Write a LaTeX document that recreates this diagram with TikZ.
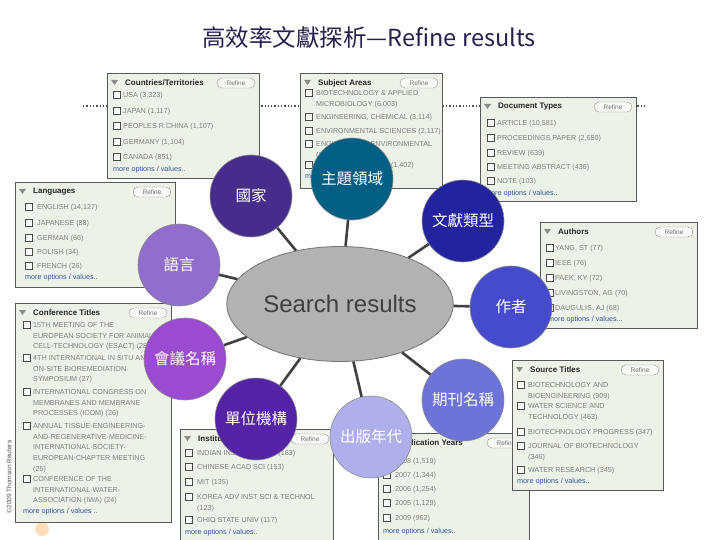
\documentclass[tikz,border=0pt]{standalone}
\usepackage{fontspec}
\setmainfont{Liberation Sans}
\newfontfamily\cjk{Noto Sans CJK TC}
\usetikzlibrary{shapes.geometric}

\definecolor{titleink}{RGB}{40,32,80}
\definecolor{panelbg}{RGB}{236,242,232}
\definecolor{moreblue}{RGB}{51,85,153}
\definecolor{linkgray}{RGB}{64,64,64}
\definecolor{cCountry}{RGB}{70,45,140}
\definecolor{cSubject}{RGB}{0,95,130}
\definecolor{cDoctype}{RGB}{35,35,160}
\definecolor{cLang}{RGB}{145,110,205}
\definecolor{cAuthor}{RGB}{70,75,205}
\definecolor{cConf}{RGB}{155,75,210}
\definecolor{cInst}{RGB}{85,35,165}
\definecolor{cYear}{RGB}{175,175,235}
\definecolor{cSource}{RGB}{110,115,215}

\tikzset{
  panel/.style={draw=black!65, fill=panelbg, line width=0.8pt},
  phead/.style={anchor=west, inner sep=0, font=\bfseries\fontsize{8}{8}\selectfont, text=black!85},
  refine/.style={draw=black!40, fill=white!60!panelbg, rounded corners=5pt, minimum width=38, minimum height=10, inner sep=0, font=\fontsize{6.5}{6.5}\selectfont, text=black!55},
  chk/.style={draw=black!70, fill=white, line width=0.6pt},
  ptext/.style={anchor=north west, inner sep=0, align=left, font=\fontsize{7.2}{10.6}\selectfont, text=black!50},
  pmore/.style={anchor=west, inner sep=0, font=\fontsize{7.2}{7.2}\selectfont, text=moreblue},
  topic/.style={circle, draw=black!45, line width=0.6pt, minimum size=82, inner sep=0, text=white, font=\cjk\fontsize{15.5}{15.5}\selectfont},
  link/.style={draw=linkgray, line width=2.6pt},
}

% one filter box: name, left, top, width, height, title
\newcommand{\panelbox}[6]{%
  \draw[panel] (#2,#3) rectangle ++(#4,#5);
  \fill[black!45] (#2+4,#3+7) -- ++(7,0) -- ++(-3.5,5) -- cycle;
  \node[phead] (#1-head) at (#2+18,#3+10) {#6};
  \node[refine] (#1-ref) at (#2+#4-23,#3+10) {Refine};
}
% one line with a check box: box x, text x, y, text
\newcommand{\panelitem}[4]{%
  \draw[chk] (#1,#3-3.5) rectangle ++(7,7);
  \node[ptext] at (#2,#3-2.6) {#4};
}

\begin{document}
\begin{tikzpicture}[x=1pt, y=-1pt]
    \fill[white] (0,0) rectangle (720,540);
    \useasboundingbox (0,0) rectangle (720,540);

    % Titel
    \node[font=\cjk\fontsize{23.5}{23.5}\selectfont, text=titleink] (title) at (369,38) {高效率文獻探析—Refine results};
    \node[rotate=90, font=\fontsize{6.5}{6.5}\selectfont, text=black!70] (copyr) at (9,477) {\textcopyright 2009 Thomson Reuters};
    \fill[orange!45, opacity=0.6] (42,529) circle (7);

    % gepunktete Linie hinter den Kaesten
    \draw[dotted, line width=1.3pt, black!70] (83,106) -- (645,106);

    % Countries/Territories
    \panelbox{cty}{107}{73}{152}{105}{Countries/Territories}
    \panelitem{113}{123}{95}{USA (3,323)}
    \panelitem{113}{123}{111}{JAPAN (1,117)}
    \panelitem{113}{123}{126}{PEOPLES R CHINA (1,107)}
    \panelitem{113}{123}{142}{GERMANY (1,104)}
    \panelitem{113}{123}{157}{CANADA (851)}
    \node[pmore] (cty-more) at (113,170) {more options / values..};

    % Subject Areas
    \panelbox{sub}{300}{73}{142}{115}{Subject Areas}
    \panelitem{305}{316}{93}{BIOTECHNOLOGY \& APPLIED\\MICROBIOLOGY (6,003)}
    \panelitem{305}{316}{117}{ENGINEERING, CHEMICAL (3,114)}
    \panelitem{305}{316}{131}{ENVIRONMENTAL SCIENCES (2,117)}
    \panelitem{305}{316}{144}{ENGINEERING, ENVIRONMENTAL\\(1,503)}
    \panelitem{305}{316}{165}{WATER RESOURCES (1,402)}
    \node[pmore] (sub-more) at (305,177) {more options / values..};

    % Document Types
    \panelbox{doc}{480}{97}{156}{104}{Document Types}
    \panelitem{487}{497}{123}{ARTICLE (10,581)}
    \panelitem{487}{497}{138}{PROCEEDINGS PAPER (2,680)}
    \panelitem{487}{497}{153}{REVIEW (639)}
    \panelitem{487}{497}{167}{MEETING ABSTRACT (436)}
    \panelitem{487}{497}{181}{NOTE (103)}
    \node[pmore] (doc-more) at (485,194) {more options / values..};

    % Languages
    \panelbox{lng}{15}{182}{160}{105}{Languages}
    \panelitem{25}{37}{207}{ENGLISH (14,127)}
    \panelitem{25}{37}{223}{JAPANESE (88)}
    \panelitem{25}{37}{238}{GERMAN (66)}
    \panelitem{25}{37}{252}{POLISH (34)}
    \panelitem{25}{37}{266}{FRENCH (26)}
    \node[pmore] (lng-more) at (25,278) {more options / values..};

    % Authors
    \panelbox{aut}{540}{222}{157}{106}{Authors}
    \panelitem{546}{555}{248}{YANG, ST (77)}
    \panelitem{546}{555}{263}{IEEE (76)}
    \panelitem{546}{555}{278}{PAEK, KY (72)}
    \panelitem{546}{555}{293}{LIVINGSTON, AG (70)}
    \panelitem{546}{555}{308}{DAUGULIS, AJ (68)}
    \node[pmore] (aut-more) at (548,320) {more options / values...};

    % Conference Titles
    \panelbox{cnf}{15}{303}{156}{219}{Conference Titles}
    \panelitem{23}{33}{325}{15TH MEETING OF THE\\EUROPEAN SOCIETY FOR ANIMAL\\CELL-TECHNOLOGY (ESACT) (28)}
    \panelitem{23}{33}{358}{4TH INTERNATIONAL IN SITU AND\\ON-SITE BIOREMEDIATION\\SYMPOSIUM (27)}
    \panelitem{23}{33}{392}{INTERNATIONAL CONGRESS ON\\MEMBRANES AND MEMBRANE\\PROCESSES (ICOM) (26)}
    \panelitem{23}{33}{426}{ANNUAL TISSUE-ENGINEERING-\\AND-REGENERATIVE-MEDICINE-\\INTERNATIONAL-SOCIETY-\\EUROPEAN-CHAPTER MEETING\\(25)}
    \panelitem{23}{33}{479}{CONFERENCE OF THE\\INTERNATIONAL-WATER-\\ASSOCIATION (IWA) (24)}
    \node[pmore] (cnf-more) at (23,512) {more options / values ..};

    % Institutions
    \panelbox{ins}{180}{429}{153}{115}{Institutions}
    \panelitem{185}{197}{453}{INDIAN INST TECHNOL (183)}
    \panelitem{185}{197}{467}{CHINESE ACAD SCI (153)}
    \panelitem{185}{197}{482}{MIT (135)}
    \panelitem{185}{197}{497}{KOREA ADV INST SCI \& TECHNOL\\(123)}
    \panelitem{185}{197}{520}{OHIO STATE UNIV (117)}
    \node[pmore] (ins-more) at (185,533) {more options / values..};

    % Publication Years
    \panelbox{pub}{378}{433}{151}{110}{Publication Years}
    \panelitem{383}{395}{461}{2008 (1,519)}
    \panelitem{383}{395}{475}{2007 (1,344)}
    \panelitem{383}{395}{489}{2006 (1,254)}
    \panelitem{383}{395}{503}{2005 (1,129)}
    \panelitem{383}{395}{518}{2009 (962)}
    \node[pmore] (pub-more) at (383,532) {more options / values..};

    % Source Titles
    \panelbox{src}{512}{360}{151}{130}{Source Titles}
    \panelitem{517}{528}{385}{BIOTECHNOLOGY AND\\BIOENGINEERING (909)}
    \panelitem{517}{528}{406}{WATER SCIENCE AND\\TECHNOLOGY (463)}
    \panelitem{517}{528}{432}{BIOTECHNOLOGY PROGRESS (347)}
    \panelitem{517}{528}{446}{JOURNAL OF BIOTECHNOLOGY\\(346)}
    \panelitem{517}{528}{470}{WATER RESEARCH (345)}
    \node[pmore] (src-more) at (517,482) {more options / values..};

    % Mitte und Kreise
    \node[ellipse, draw=black!55, line width=0.8pt, fill=black!30, minimum width=172, minimum height=115, font=\fontsize{24}{24}\selectfont, text=black!75] (search) at (340,304) {Search results};
    \node[topic, fill=cCountry] (country) at (251,196) {國家};
    \node[topic, fill=cSubject] (subject) at (352,179) {主題領域};
    \node[topic, fill=cDoctype] (doctype) at (463,221) {文獻類型};
    \node[topic, fill=cLang] (lang) at (179,265) {語言};
    \node[topic, fill=cAuthor] (author) at (511,307) {作者};
    \node[topic, fill=cConf] (conf) at (185,359) {會議名稱};
    \node[topic, fill=cInst] (inst) at (256,419) {單位機構};
    \node[topic, fill=cYear] (year) at (371,437) {出版年代};
    \node[topic, fill=cSource] (source) at (463,400) {期刊名稱};

    % Verbindungen
    \draw[link] (search) -- (country);
    \draw[link] (search) -- (subject);
    \draw[link] (search) -- (doctype);
    \draw[link] (search) -- (lang);
    \draw[link] (search) -- (author);
    \draw[link] (search) -- (conf);
    \draw[link] (search) -- (inst);
    \draw[link] (search) -- (year);
    \draw[link] (search) -- (source);
\end{tikzpicture}
\end{document}
